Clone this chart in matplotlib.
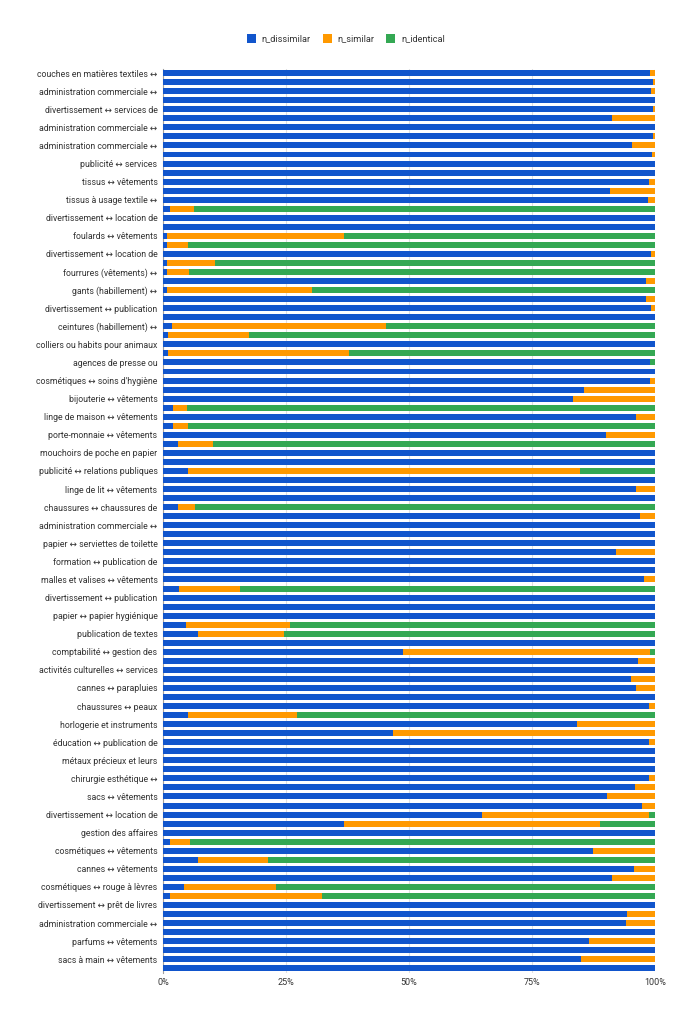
import matplotlib
matplotlib.use("Agg")
import matplotlib.pyplot as plt
import numpy as np

# one label for every second bar (the others are hidden in the reference)
shown_labels = [
    "couches en matières textiles ↔", "administration commerciale ↔",
    "divertissement ↔ services de", "administration commerciale ↔",
    "administration commerciale ↔", "publicité ↔ services",
    "tissus ↔ vêtements", "tissus à usage textile ↔",
    "divertissement ↔ location de", "foulards ↔ vêtements",
    "divertissement ↔ location de", "fourrures (vêtements) ↔",
    "gants (habillement) ↔", "divertissement ↔ publication",
    "ceintures (habillement) ↔", "colliers ou habits pour animaux",
    "agences de presse ou", "cosmétiques ↔ soins d'hygiène",
    "bijouterie ↔ vêtements", "linge de maison ↔ vêtements",
    "porte-monnaie ↔ vêtements", "mouchoirs de poche en papier",
    "publicité ↔ relations publiques", "linge de lit ↔ vêtements",
    "chaussures ↔ chaussures de", "administration commerciale ↔",
    "papier ↔ serviettes de toilette", "formation ↔ publication de",
    "malles et valises ↔ vêtements", "divertissement ↔ publication",
    "papier ↔ papier hygiénique", "publication de textes",
    "comptabilité ↔ gestion des", "activités culturelles ↔ services",
    "cannes ↔ parapluies", "chaussures ↔ peaux",
    "horlogerie et instruments", "éducation ↔ publication de",
    "métaux précieux et leurs", "chirurgie esthétique ↔",
    "sacs ↔ vêtements", "divertissement ↔ location de",
    "gestion des affaires", "cosmétiques ↔ vêtements",
    "cannes ↔ vêtements", "cosmétiques ↔ rouge à lèvres",
    "divertissement ↔ prêt de livres", "administration commerciale ↔",
    "parfums ↔ vêtements", "sacs à main ↔ vêtements",
]

# percent shares per bar, top to bottom (100 bars)
n_dissimilar = [
    99.0, 99.6, 99.1, 100, 99.6, 91.3, 100, 99.5, 95.3, 99.4,
    100, 100, 98.7, 90.9, 98.5, 1.5, 100, 100, 0.8, 0.8,
    99.1, 0.8, 0.8, 98.2, 0.8, 98.2, 99.1, 100, 1.8, 1.0,
    100, 1.0, 99.0, 100, 99.0, 85.6, 83.3, 2.0, 96.2, 2.0,
    90.1, 3.0, 100, 100, 5.1, 100, 96.1, 100, 3.1, 96.9,
    100, 100, 100, 92.1, 100, 100, 97.7, 3.2, 100, 100,
    100, 4.7, 7.1, 100, 48.7, 96.5, 100, 95.1, 96.2, 100,
    98.8, 5.1, 84.2, 46.7, 98.8, 100, 100, 100, 98.8, 95.9,
    90.3, 97.4, 64.8, 36.7, 100, 1.4, 87.3, 7.2, 95.7, 91.3,
    4.3, 1.4, 100, 94.3, 94.1, 100, 86.6, 100, 85.0, 100,
]
n_similar = [
    1.0, 0.4, 0.9, 0, 0.4, 8.7, 0, 0.5, 4.7, 0.6,
    0, 0, 1.3, 9.1, 1.5, 4.8, 0, 0, 36.0, 4.2,
    0.9, 9.8, 4.4, 1.8, 29.5, 1.8, 0.9, 0, 43.5, 16.4,
    0, 36.7, 0, 0, 1.0, 14.4, 16.7, 2.9, 3.8, 3.0,
    9.9, 7.2, 0, 0, 79.7, 0, 3.9, 0, 3.3, 3.1,
    0, 0, 0, 7.9, 0, 0, 2.3, 12.4, 0, 0,
    0, 21.1, 17.5, 0, 50.2, 3.5, 0, 4.9, 3.8, 0,
    1.2, 22.2, 15.8, 53.3, 1.2, 0, 0, 0, 1.2, 4.1,
    9.7, 2.6, 33.9, 52.1, 0, 4.1, 12.7, 14.1, 4.3, 8.7,
    18.7, 30.9, 0, 5.7, 5.9, 0, 13.4, 0, 15.0, 0,
]
n_identical = [
    0, 0, 0, 0, 0, 0, 0, 0, 0, 0,
    0, 0, 0, 0, 0, 93.7, 0, 0, 63.2, 95.0,
    0, 89.4, 94.8, 0, 69.7, 0, 0, 0, 54.7, 82.6,
    0, 62.3, 1.0, 0, 0, 0, 0, 95.1, 0, 95.0,
    0, 89.8, 0, 0, 15.2, 0, 0, 0, 93.6, 0,
    0, 0, 0, 0, 0, 0, 0, 84.4, 0, 0,
    0, 74.2, 75.4, 0, 1.1, 0, 0, 0, 0, 0,
    0, 72.7, 0, 0, 0, 0, 0, 0, 0, 0,
    0, 0, 1.3, 11.2, 0, 94.5, 0, 78.7, 0, 0,
    77.0, 67.7, 0, 0, 0, 0, 0, 0, 0, 0,
]

series = [("n_dissimilar", n_dissimilar, "#1155CC"),
          ("n_similar", n_similar, "#FF9900"),
          ("n_identical", n_identical, "#34A853")]

plt.rcParams["font.family"] = ["Roboto", "DejaVu Sans"]

fig = plt.figure(figsize=(6.89, 10.24), dpi=100)
ax = fig.add_axes([0.2366, 0.050, 0.9507 - 0.2366, 0.933 - 0.050])

y = np.arange(len(n_dissimilar))
left = np.zeros(len(y))
for name, vals, color in series:
    vals = np.array(vals, dtype=float)
    ax.barh(y, vals, left=left, height=0.66, color=color, label=name, zorder=3)
    left += vals

ax.set_ylim(len(y) - 0.5, -0.5)
ax.set_xlim(0, 100)
ax.set_yticks(y[::2])
ax.set_yticklabels(shown_labels, fontsize=6.3, color="#333333")
ax.set_xticks([0, 25, 50, 75, 100])
ax.set_xticklabels(["0%", "25%", "50%", "75%", "100%"], fontsize=6.5, color="#333333")
ax.tick_params(axis="both", length=0, pad=4)
ax.grid(True, axis="x", color="#E0E0E0", linewidth=0.8, zorder=0)

for side in ["top", "right", "bottom"]:
    ax.spines[side].set_visible(False)
ax.spines["left"].set_color("#9E9E9E")
ax.spines["left"].set_linewidth(0.8)

fig.legend(loc="center", bbox_to_anchor=(0.502, 1 - 39 / 1024), ncol=3,
           frameon=False, fontsize=6.6, handlelength=1.0, handleheight=1.0,
           handletextpad=0.6, columnspacing=1.3, labelcolor="#333333")

fig.savefig("out.png", dpi=100, facecolor="white")
